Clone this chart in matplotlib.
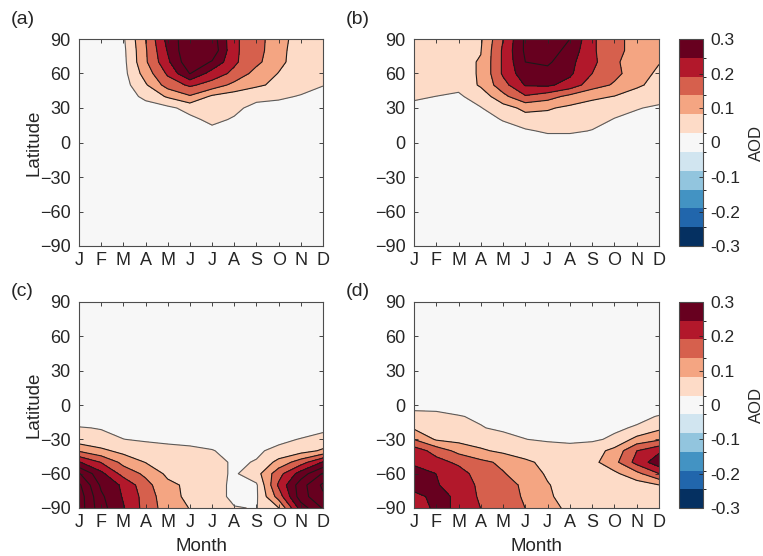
#!/usr/bin/env python

import sys
import numpy as np
import matplotlib
matplotlib.use('Agg')
import matplotlib.pyplot as plt
from matplotlib.colors import ListedColormap, BoundaryNorm
from matplotlib.cm import ScalarMappable

"""
Zonal mean AOD anomaly by month and latitude, four panels
"""

months = np.arange(1, 13)
month_labels = ['J', 'F', 'M', 'A', 'M', 'J', 'J', 'A', 'S', 'O', 'N', 'D']
lats = np.arange(90, -91, -10)
lat_ticks = [90, 60, 30, 0, -30, -60, -90]
panel_labels = ['(a)', '(b)', '(c)', '(d)']
cbar_ticks = [-0.3, -0.2, -0.1, 0, 0.1, 0.2, 0.3]
cbar_labels = ['-0.3', '-0.2', '-0.1', '0', '0.1', '0.2', '0.3']

# rows are latitude 90 .. -90 (step 10), columns are J .. D
zero_row = [0] * 12

aod_a = [
	[0, 0, 0.02, 0.136, 0.264, 0.34, 0.33, 0.2, 0.16, 0.1, 0.06, 0.055],
	[0, 0, 0.015, 0.13, 0.25, 0.35, 0.34, 0.2, 0.16, 0.095, 0.06, 0.05],
	[0, 0, 0.012, 0.128, 0.235, 0.34, 0.295, 0.2, 0.15, 0.095, 0.055, 0.05],
	[0, 0, 0.01, 0.105, 0.2, 0.302, 0.22, 0.178, 0.115, 0.08, 0.05, 0.045],
	[0, 0, 0.005, 0.075, 0.16, 0.2, 0.17, 0.12, 0.09, 0.07, 0.045, 0.028],
	[0, 0, 0, 0.04, 0.089, 0.13, 0.072, 0.055, 0.045, 0.035, 0.024, 0.02],
	[0, 0, 0, 0.005, 0.015, 0.045, 0.055, 0.04, 0.01, 0.01, 0.01, 0.01],
	[0, 0, 0, 0, 0, 0.015, 0.04, 0.022, 0, 0, 0, 0],
	[0, 0, 0, 0, 0, 0.005, 0.014, 0.008, 0, 0, 0, 0],
] + [zero_row] * 10

aod_b = [
	[0.06, 0.06, 0.06, 0.075, 0.19, 0.31, 0.34, 0.3, 0.2, 0.15, 0.12, 0.115],
	[0.06, 0.06, 0.065, 0.08, 0.2, 0.31, 0.33, 0.28, 0.2, 0.15, 0.12, 0.11],
	[0.06, 0.06, 0.07, 0.085, 0.2, 0.3, 0.31, 0.26, 0.205, 0.145, 0.11, 0.085],
	[0.06, 0.06, 0.07, 0.085, 0.2, 0.28, 0.28, 0.255, 0.191, 0.15, 0.11, 0.07],
	[0.05, 0.055, 0.04, 0.09, 0.17, 0.25, 0.255, 0.225, 0.16, 0.13, 0.09, 0.065],
	[0.037, 0.0265, 0.02, 0.05, 0.12, 0.185, 0.16, 0.12, 0.095, 0.08, 0.06, 0.045],
	[0.01, 0.01, 0.01, 0.025, 0.06, 0.095, 0.088, 0.07, 0.055, 0.045, 0.03, 0.02],
	[0, 0, 0, 0.01, 0.03, 0.06, 0.06, 0.055, 0.045, 0.025, 0.015, 0.01],
	[0, 0, 0, 0, 0.01, 0.02, 0.035, 0.035, 0.025, 0.01, 0, 0],
] + [zero_row] * 10

aod_c = [zero_row] * 11 + [
	[0.03, 0.025, 0.01, 0, 0, 0, 0, 0, 0, 0, 0, 0.015],
	[0.05, 0.04, 0.028, 0.02, 0.015, 0.01, 0.005, 0, 0, 0.015, 0.03, 0.045],
	[0.13, 0.095, 0.065, 0.055, 0.045, 0.04, 0.03, 0.01, 0.02, 0.04, 0.06, 0.09],
	[0.25, 0.188, 0.12, 0.08, 0.065, 0.055, 0.045, 0.02, 0.03, 0.1, 0.165, 0.25],
	[0.36, 0.26, 0.17, 0.125, 0.07, 0.06, 0.045, 0.02, 0.06, 0.17, 0.27, 0.36],
	[0.42, 0.29, 0.235, 0.155, 0.095, 0.07, 0.05, 0.015, 0.02, 0.2, 0.33, 0.42],
	[0.44, 0.31, 0.24, 0.17, 0.1, 0.07, 0.05, 0.015, 0.02, 0.16, 0.33, 0.4],
	[0.44, 0.32, 0.25, 0.17, 0.11, 0.08, 0.05, 0.03, 0.025, 0.08, 0.27, 0.36],
]

aod_d = [zero_row] * 9 + [
	[0.005, 0.005, 0.005, 0, 0, 0, 0, 0, 0, 0, 0, 0],
	[0.05, 0.045, 0.03, 0.02, 0.01, 0.01, 0.01, 0.01, 0.01, 0.01, 0.015, 0.03],
	[0.075, 0.065, 0.055, 0.03, 0.018, 0.015, 0.015, 0.015, 0.015, 0.02, 0.032, 0.07],
	[0.135, 0.075, 0.065, 0.055, 0.045, 0.028, 0.02, 0.015, 0.02, 0.035, 0.1, 0.128],
	[0.22, 0.17, 0.12, 0.09, 0.07, 0.06, 0.055, 0.05, 0.055, 0.1, 0.19, 0.235],
	[0.235, 0.21, 0.18, 0.15, 0.125, 0.09, 0.07, 0.065, 0.065, 0.12, 0.21, 0.28],
	[0.27, 0.245, 0.215, 0.165, 0.14, 0.11, 0.075, 0.065, 0.06, 0.07, 0.12, 0.19],
	[0.26, 0.25, 0.22, 0.18, 0.16, 0.125, 0.085, 0.06, 0.05, 0.05, 0.055, 0.08],
	[0.235, 0.255, 0.24, 0.18, 0.16, 0.13, 0.09, 0.06, 0.05, 0.045, 0.045, 0.05],
	[0.22, 0.255, 0.24, 0.19, 0.16, 0.136, 0.1, 0.07, 0.05, 0.045, 0.04, 0.04],
]

rdbu = ['#053061', '#2166ac', '#4393c3', '#92c5de', '#d1e5f0', '#f7f7f7',
	'#fddbc7', '#f4a582', '#d6604d', '#b2182b', '#67001f']

TXT = '#262626'


def main():
	plt.rcParams['font.family'] = ['Liberation Sans', 'DejaVu Sans']
	plt.rcParams['axes.unicode_minus'] = True

	W, H = 763.0, 556.0
	fig = plt.figure(figsize=(W / 100, H / 100), dpi=100)

	levels = np.linspace(-0.3, 0.3, 12)
	step = levels[1] - levels[0]
	fill_levels = list(levels) + [1.0]
	fill_colors = rdbu + [rdbu[-1]]
	line_levels = list(levels[6:]) + [0.3 + step, 0.3 + 2 * step]
	line_colors = ['#5a5a5a'] + ['#1a1a1a'] * (len(line_levels) - 1)

	# pixel boxes: left, top, right, bottom
	boxes = [(79, 39, 323, 246), (414, 39, 659, 246),
		(79, 302, 323, 508), (414, 302, 659, 508)]
	label_pos = [(11, 20), (346, 20), (11, 292), (346, 292)]
	data = [aod_a, aod_b, aod_c, aod_d]

	for i in range(4):
		l, t, r, b = boxes[i]
		ax = fig.add_axes([l / W, 1 - b / H, (r - l) / W, (b - t) / H])
		z = np.array(data[i])
		ax.contourf(months, lats, z, levels=fill_levels, colors=fill_colors)
		ax.contour(months, lats, z, levels=line_levels, colors=line_colors,
			linewidths=0.8)
		ax.set_xlim(1, 12)
		ax.set_ylim(-90, 90)
		ax.set_xticks(months)
		ax.set_xticklabels(month_labels)
		ax.set_yticks(lat_ticks)
		ax.tick_params(direction='in', top=True, right=True, length=3,
			width=0.6, colors=TXT, labelsize=13)
		ax.tick_params(axis='x', pad=4)
		ax.tick_params(axis='y', pad=6)
		for s in ax.spines.values():
			s.set_color('#4d4d4d')
			s.set_linewidth(0.8)

		fig.text(label_pos[i][0] / W, 1 - label_pos[i][1] / H, panel_labels[i],
			ha='left', va='center', fontsize=14, color=TXT)

		if i % 2 == 0:
			fig.text(33.5 / W, 1 - ((t + b) / 2.0) / H, 'Latitude', rotation=90,
				ha='center', va='center', fontsize=13.5, color=TXT)
		else:
			cax = fig.add_axes([679 / W, 1 - b / H, 24 / W, (b - t) / H])
			sm = ScalarMappable(norm=BoundaryNorm(levels, 11),
				cmap=ListedColormap(rdbu))
			cb = fig.colorbar(sm, cax=cax, ticks=cbar_ticks)
			cb.ax.set_yticklabels(cbar_labels)
			cb.ax.tick_params(direction='in', length=3, width=0.6, colors=TXT,
				labelsize=12.5, pad=5)
			cb.outline.set_edgecolor('#4d4d4d')
			cb.outline.set_linewidth(0.8)
			fig.text(756 / W, 1 - ((t + b) / 2.0) / H, 'AOD', rotation=90,
				ha='center', va='center', fontsize=12, color=TXT)

		if i >= 2:
			fig.text(((l + r) / 2.0) / W, 1 - 555 / H, 'Month', ha='center',
				va='bottom', fontsize=13.5, color=TXT)

	fig.savefig('out.png', dpi=100)
	return 0


if __name__ == "__main__":
	sys.exit(main())
